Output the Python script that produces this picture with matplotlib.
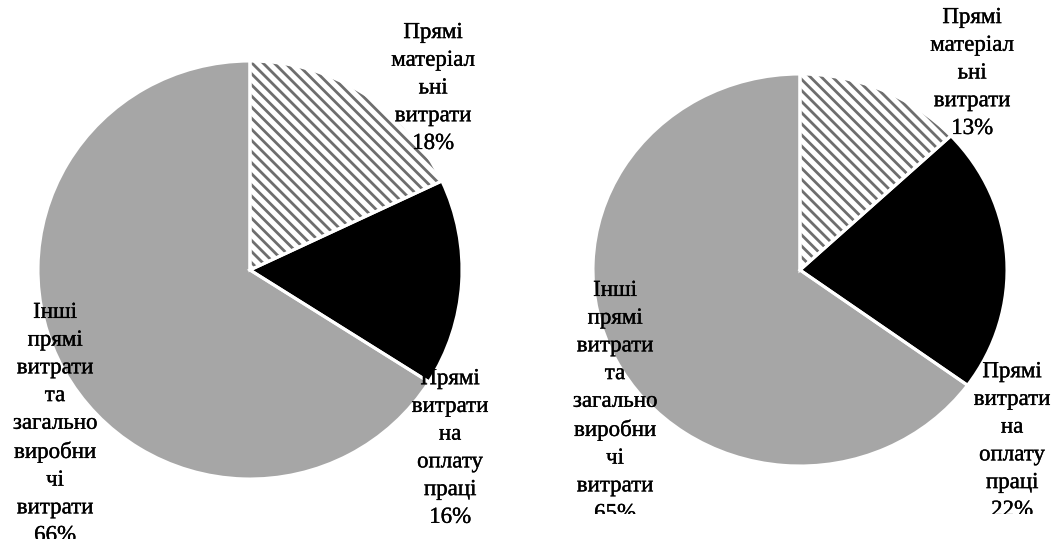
import matplotlib
matplotlib.use('Agg')
import matplotlib.pyplot as plt
import matplotlib.patheffects as pe
from matplotlib.transforms import Bbox

# категорії витрат (перенесення рядків як у вихідній діаграмі)
categories = [
    'Прямі\nматеріал\nьні\nвитрати',
    'Прямі\nвитрати\nна\nоплату\nпраці',
    'Інші\nпрямі\nвитрати\nта\nзагально\nвиробни\nчі\nвитрати',
]
shares_left = [18, 16, 66]
shares_right = [13, 22, 65]

colors = ['white', 'black', '#a6a6a6']
hatches = ['\\\\\\', '', '']
hatch_col = '#6e6e6e'

W, H = 1064, 539
plt.rcParams['hatch.linewidth'] = 2.0
plt.rcParams['hatch.color'] = hatch_col

fig = plt.figure(figsize=(W / 100, H / 100), dpi=100)

# (центр x, центр y, rx, ry) у пікселях, y від верху
pies = [
    dict(values=shares_left, geom=(250, 270, 212, 209),
         label_xy=[(433, 88), (450, 448), (55, 424)], clip_y=539),
    dict(values=shares_right, geom=(800, 270, 207, 196),
         label_xy=[(972, 73), (1012, 441), (615, 402)], clip_y=514),
]

for i, p in enumerate(pies):
    cx, cy, rx, ry = p['geom']
    ax = fig.add_axes([(cx - rx) / W, (H - cy - ry) / H, 2 * rx / W, 2 * ry / H])
    # заливка + штрихування (колір штриха береться з edgecolor)
    wedges, _ = ax.pie(p['values'], colors=colors, hatch=hatches, startangle=90,
                       counterclock=False, radius=1,
                       wedgeprops=dict(linewidth=0, clip_on=False))
    for w in wedges:
        w.set_edgecolor(hatch_col)
    # білі межі між секторами
    ax.pie(p['values'], colors=['none'] * 3, startangle=90, counterclock=False,
           radius=1, wedgeprops=dict(edgecolor='white', linewidth=2.2, clip_on=False))
    ax.set_xlim(-1, 1)
    ax.set_ylim(-1, 1)
    ax.set_aspect('auto')
    ax.axis('off')

    x0 = 0 if i == 0 else 532
    x1 = 532 if i == 0 else W
    clip = Bbox([[x0, H - p['clip_y']], [x1, H]])
    for cat, v, (lx, ly) in zip(categories, p['values'], p['label_xy']):
        fig.text(lx / W, 1 - ly / H, f'{cat}\n{v}%', ha='center', va='center',
                 multialignment='center', fontsize=16.5, family='Liberation Serif',
                 linespacing=1.42, color='black', clip_on=True, clip_box=clip,
                 path_effects=[pe.withStroke(linewidth=0.25, foreground='black')])

fig.savefig('out.png', dpi=100, facecolor='white')
